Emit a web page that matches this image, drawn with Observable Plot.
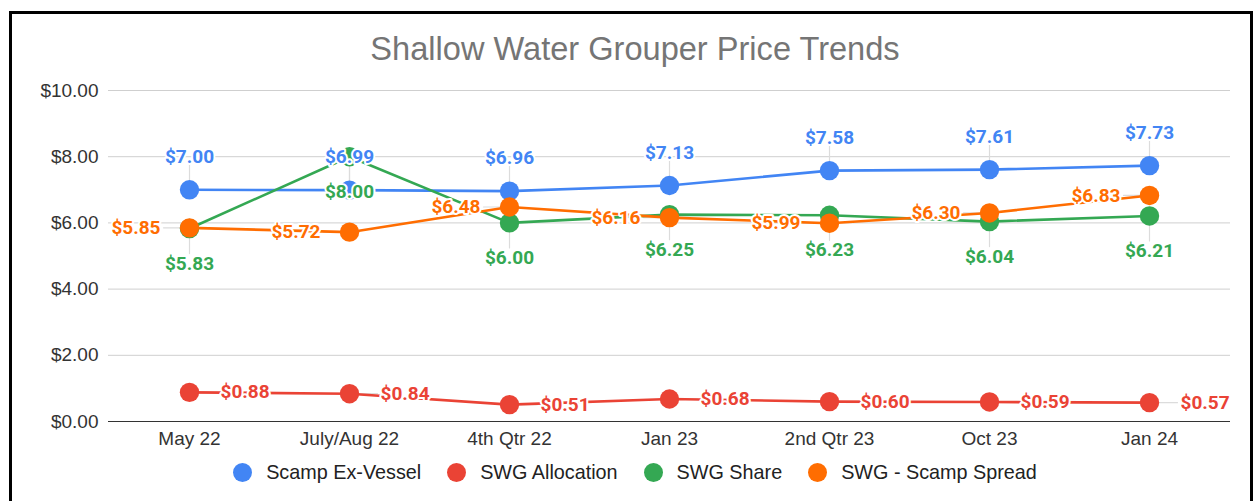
<!DOCTYPE html>
<html>
<head>
<meta charset="utf-8">
<script src="https://cdn.jsdelivr.net/npm/d3@7"></script>
<script src="https://cdn.jsdelivr.net/npm/@observablehq/plot@0.6"></script>
<style>
  html, body { margin: 0; padding: 0; background: #fff; width: 1260px; height: 501px; overflow: hidden; }
  #wrap { position: relative; width: 1260px; height: 501px; }
  #border { position: absolute; left: 9px; top: 11px; width: 1238px; height: 520px; border: 3px solid #000; box-sizing: content-box; }
  #title { position: absolute; left: 0; width: 1270px; top: 33px; text-align: center; font: 32.6px "Liberation Sans", Arial, sans-serif; line-height: 31px; color: #757575; }
  #chart { position: absolute; left: 0; top: 0; }
  #legend { position: absolute; left: 0; width: 1270px; top: 462px; height: 20px; display: flex; justify-content: center; align-items: center; font: 19.8px "Liberation Sans", Arial, sans-serif; color: #222; line-height: 20px; }
  .item { display: flex; align-items: center; margin: 0 13px; }
  .sw { width: 19px; height: 19px; border-radius: 50%; margin-right: 14px; }
</style>
</head>
<body>
<div id="wrap">
  <div id="border"></div>
  <div id="chart"></div>
  <div id="title">Shallow Water Grouper Price Trends</div>
  <div id="legend"></div>
</div>
<script>
const categories = ["May 22", "July/Aug 22", "4th Qtr 22", "Jan 23", "2nd Qtr 23", "Oct 23", "Jan 24"];
const scampExVessel = [7.00, 6.99, 6.96, 7.13, 7.58, 7.61, 7.73];
const swgAllocation = [0.88, 0.84, 0.51, 0.68, 0.60, 0.59, 0.57];
const swgShare = [5.83, 8.00, 6.00, 6.25, 6.23, 6.04, 6.21];
const swgScampSpread = [5.85, 5.72, 6.48, 6.16, 5.99, 6.30, 6.83];
const seriesNames = ["Scamp Ex-Vessel", "SWG Allocation", "SWG Share", "SWG - Scamp Spread"];
const seriesColors = ["#4285F4", "#EA4335", "#34A853", "#FF6D01"];
const yTicks = [0, 2, 4, 6, 8, 10];

const seriesValues = [scampExVessel, swgAllocation, swgShare, swgScampSpread];
const rows = seriesNames.map((name, i) =>
  categories.map((c, j) => ({ series: name, cat: c, value: seriesValues[i][j], color: seriesColors[i] }))
);
const fmt = v => "$" + v.toFixed(2);

const leaderShape = {
  draw(context, l) { context.moveTo(0, 0); context.lineTo(0, -l); }
};

function leader(data, rotate, length) {
  try {
    return Plot.vector(data, { x: "cat", y: "value", length, rotate, anchor: "start", shape: leaderShape, stroke: "#dcdcdc", strokeWidth: 1.2 });
  } catch (e) {
    return null;
  }
}

const labelFont = { fontFamily: "Roboto, 'Liberation Sans', sans-serif", fontWeight: "bold", fontSize: 19, stroke: "white", strokeWidth: 4, paintOrder: "stroke" };

const marks = [
  Plot.gridY(yTicks, { stroke: "#cfcfcf", strokeOpacity: 1 }),
  Plot.axisY(yTicks, { tickSize: 0, tickPadding: 10, fontSize: 19, tickFormat: fmt, color: "#333", label: null }),
  Plot.axisX({ tickSize: 0, tickPadding: 10, fontSize: 19, color: "#333", label: null }),
  leader(rows[0], 0, 25),
  leader(rows[2], 180, 25),
  leader(rows[1], 90, 28),
  leader(rows[3], -90, 26),
  Plot.ruleY([0], { stroke: "#333", strokeWidth: 1.2 }),
];
[0, 1, 2, 3].forEach(i => {
  marks.push(Plot.line(rows[i], { x: "cat", y: "value", stroke: seriesColors[i], strokeWidth: 2.6 }));
});
[0, 1, 2, 3].forEach(i => {
  marks.push(Plot.dot(rows[i], { x: "cat", y: "value", r: 9.7, fill: seriesColors[i] }));
});
marks.push(Plot.text(rows[0], { x: "cat", y: "value", text: d => fmt(d.value), dy: -33, fill: seriesColors[0], ...labelFont }));
marks.push(Plot.text(rows[2], { x: "cat", y: "value", text: d => fmt(d.value), dy: 35, fill: seriesColors[2], ...labelFont }));
marks.push(Plot.text(rows[1], { x: "cat", y: "value", text: d => fmt(d.value), dx: 31, textAnchor: "start", fill: seriesColors[1], ...labelFont }));
marks.push(Plot.text(rows[3], { x: "cat", y: "value", text: d => fmt(d.value), dx: -29, textAnchor: "end", fill: seriesColors[3], ...labelFont }));

const chart = Plot.plot({
  width: 1260,
  height: 460,
  marginLeft: 108,
  marginRight: 30,
  marginTop: 90,
  marginBottom: 39,
  x: { type: "point", domain: categories, padding: 0.5, label: null },
  y: { domain: [0, 10], label: null },
  style: { fontFamily: "'Liberation Sans', Arial, sans-serif", background: "transparent", overflow: "visible" },
  marks: marks.filter(m => m)
});
document.getElementById("chart").appendChild(chart);

const legend = document.getElementById("legend");
seriesNames.forEach((name, i) => {
  const item = document.createElement("div");
  item.className = "item";
  const sw = document.createElement("span");
  sw.className = "sw";
  sw.style.background = seriesColors[i];
  const t = document.createElement("span");
  t.textContent = name;
  item.appendChild(sw);
  item.appendChild(t);
  legend.appendChild(item);
});
</script>
</body>
</html>
